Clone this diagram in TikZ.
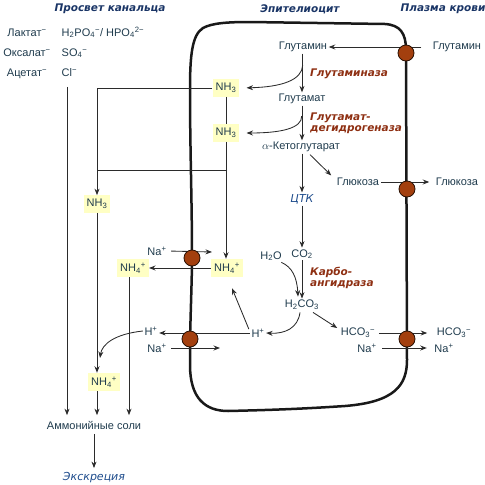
\documentclass[tikz,border=0pt]{standalone}
\usepackage{fontspec}
\setmainfont{Liberation Sans}
\newfontfamily\tfont{DejaVu Sans}
\usetikzlibrary{arrows.meta,calc}
\definecolor{txt}{HTML}{1F3B4D}
\definecolor{ttl}{HTML}{1A3566}
\definecolor{enz}{HTML}{8E2F12}
\definecolor{blu}{HTML}{1E4C8C}
\definecolor{ylw}{HTML}{FFFFC4}
\definecolor{trc}{HTML}{A33F0E}
\definecolor{lc}{HTML}{2B2B2B}
\begin{document}
\begin{tikzpicture}[x=1pt,y=-1pt,
  font=\fontsize{11}{13}\selectfont, text=txt,
  lbl/.style={inner sep=1.5pt},
  ybox/.style={fill=ylw, inner xsep=3pt, inner ysep=4pt},
  title/.style={font=\tfont\bfseries\itshape\fontsize{10.5}{12}\selectfont, text=ttl},
  enzyme/.style={font=\tfont\bfseries\itshape\fontsize{10.5}{11}\selectfont, text=enz, align=left, anchor=west, inner sep=0pt},
  bluetext/.style={font=\tfont\itshape\fontsize{11}{13}\selectfont, text=blu},
  arr/.style={draw=lc, line width=0.85pt, -{Stealth[length=6.5pt,width=5pt]}},
  plain/.style={draw=lc, line width=0.85pt},
  pump/.style={circle, fill=trc, draw=black!75!trc, line width=0.8pt, minimum size=16pt, inner sep=0pt},
  mem/.style={draw=black!90, line width=2.5pt, line join=round}]
\useasboundingbox (0,0) rectangle (485,485);

% membrane
\draw[mem] (250,22) -- (385,24) .. controls (400,25) and (406,33) .. (406,50)
  -- (407,360) .. controls (407,385) and (395,402) .. (345,406)
  .. controls (300,409) and (270,410) .. (228,411)
  .. controls (205,411) and (190,398) .. (190,365)
  -- (190,340) .. controls (191,300) and (192,275) .. (192,258)
  .. controls (192,200) and (190,150) .. (190,90)
  .. controls (190,55) and (192,35) .. (203,28)
  .. controls (212,23) and (228,22) .. (250,22) -- cycle;

% titles
\node[title] (t1) at (110,9) {Просвет канальца};
\node[title] (t2) at (300,9) {Эпителиоцит};
\node[title] (t3) at (443,9) {Плазма крови};

% lumen list
\node[lbl, anchor=base] (lak) at (27,36) {Лактат\textsuperscript{−}};
\node[lbl, anchor=base] (oks) at (27,56) {Оксалат\textsuperscript{−}};
\node[lbl, anchor=base] (ace) at (27,76) {Ацетат\textsuperscript{−}};
\node[lbl, anchor=base west] (hpo) at (60,36) {H\textsubscript{2}PO\textsubscript{4}\textsuperscript{−}/ HPO\textsubscript{4}\textsuperscript{2−}};
\node[lbl, anchor=base west] (so4) at (60,56) {SO\textsubscript{4}\textsuperscript{−}};
\node[lbl, anchor=base west] (cl) at (60,76) {Cl\textsuperscript{−}};

% cell contents
\node[lbl] (glnI) at (303,47) {Глутамин};
\node[lbl] (glu) at (302,99) {Глутамат};
\node[lbl] (akg) at (301,147) {$\alpha$-Кетоглутарат};
\node[lbl, bluetext] (tck) at (302,199) {ЦТК};
\node[lbl] (glcI) at (358,182) {Глюкоза};
\node[lbl] (co2) at (302,254) {CO\textsubscript{2}};
\node[lbl] (h2o) at (271,256) {H\textsubscript{2}O};
\node[lbl] (h2co3) at (302,305) {H\textsubscript{2}CO\textsubscript{3}};
\node[lbl] (hI) at (258,333) {H\textsuperscript{+}};
\node[lbl] (hco3I) at (358,333) {HCO\textsubscript{3}\textsuperscript{−}};
\node[lbl] (naI) at (367,348) {Na\textsuperscript{+}};

% enzymes
\node[enzyme] (e1) at (310,74) {Глутаминаза};
\node[enzyme] (e2) at (310,123) {Глутамат-\\дегидрогеназа};
\node[enzyme] (e3) at (310,278) {Карбо-\\ангидраза};

% blood side
\node[lbl] (glnO) at (457,47) {Глутамин};
\node[lbl] (glcO) at (457,182) {Глюкоза};
\node[lbl] (hco3O) at (454,333) {HCO\textsubscript{3}\textsuperscript{−}};
\node[lbl] (naO) at (444,348) {Na\textsuperscript{+}};

% ammonia boxes
\node[ybox] (nh3a) at (226,88) {NH\textsubscript{3}};
\node[ybox] (nh3b) at (226,133) {NH\textsubscript{3}};
\node[ybox] (nh3c) at (97,204) {NH\textsubscript{3}};
\node[ybox] (nh4r) at (227,268) {NH\textsubscript{4}\textsuperscript{+}};
\node[ybox] (nh4l) at (133,268) {NH\textsubscript{4}\textsuperscript{+}};
\node[ybox] (nh4b) at (104,382) {NH\textsubscript{4}\textsuperscript{+}};

% lumen side ions
\node[lbl] (naT) at (157,251) {Na\textsuperscript{+}};
\node[lbl] (hO) at (151,331) {H\textsuperscript{+}};
\node[lbl] (naB) at (157,348) {Na\textsuperscript{+}};

% bottom
\node[lbl] (salts) at (94,425) {Аммонийные соли};
\node[lbl, bluetext] (excr) at (94,478) {Экскреция};

% helper coordinates
\coordinate (b1) at ($(glnI.south)!0.3!(glu.north)$);
\coordinate (b2) at ($(glu.south)!0.3!(akg.north)$);
\coordinate (j1) at (227,170);
\coordinate (clx) at (67,0);
\coordinate (x128) at (129,0);
\coordinate (naTe) at (212,252);
\coordinate (naBe) at (220,348);

% glutamine metabolism
\draw[arr, shorten <=10pt] (glnO.west) -- (glnO.west -| glnI.east);
\draw[arr] (glnI.south -| glu.north) -- (glu.north);
\draw[arr, shorten >=7pt] (b1) .. controls (302,80) and (282,87) .. (nh3a.east);
\draw[arr] (glu.south) -- (glu.south |- akg.north);
\draw[arr, shorten >=7pt] (b2) .. controls (302,128) and (282,133) .. (nh3b.east);
\draw[arr] (akg.south -| tck.north) -- (tck.north);
\draw[arr] ($(akg.south)+(9,1)$) -- ($(glcI.north west)+(-4,-1)$);
\draw[arr, shorten >=5pt] (glcI.east) -- (glcI.east -| glcO.west);
\draw[arr] (tck.south) -- (tck.south |- co2.north);
\draw[arr] (co2.south) -- (co2.south |- h2co3.north);
\draw[arr] ($(h2o.south east)+(-2,0)$) .. controls (292,267) and (297,277) .. ($(h2co3.north)+(-4,-2)$);
\draw[arr] ($(h2co3.south)+(-2,1)$) .. controls (298,328) and (285,334) .. (hI.east);
\draw[arr] ($(h2co3.south)+(11,1)$) -- ($(hco3I.west)+(-2,-5)$);
\draw[arr, shorten <=2pt, shorten >=8pt] (hco3I.east) -- (hco3I.east -| hco3O.west);
\draw[arr, shorten <=4pt, shorten >=6pt] (naI.east) -- (naI.east -| naO.west);

% proton & ammonium transport
\draw[arr] (hI.west) -- (hI.west -| hO.east);
\draw[arr] ($(hI.north west)+(-1,2)$) -- ($(nh4r.south)+(5,11)$);
\draw[arr, shorten <=3pt] (naT.east) -- (naTe);
\draw[arr, shorten <=3pt] (naB.east) -- (naBe);
\draw[arr] (nh4r.west) -- (nh4r.west -| nh4l.east);
\draw[arr] (hO.west) .. controls (115,334) and (102,344) .. (100,358);

% ammonia lines
\draw[arr] (nh3a.west) -| (nh3c.north);
\draw[plain] (nh3a.south) -- (nh3b.north);
\draw[arr] (nh3b.south) -- (nh3b.south |- nh4r.north);
\draw[plain] (j1) -- (j1 -| nh3c.north);
\draw[arr] (nh3c.south) -- (nh3c.south |- nh4b.north);
\draw[arr, shorten >=4pt] (nh3c.south |- nh4b.south) -- (nh3c.south |- salts.north);
\draw[arr, shorten >=4pt] (nh4l.south -| x128) -- (x128 |- salts.north);
\draw[arr, shorten <=9pt, shorten >=4pt] (cl.south -| clx) -- (clx |- salts.north);
\draw[arr, shorten <=3pt, shorten >=3pt] (salts.south) -- (excr.north);

% transporters
\node[pump] (p1) at (406,53) {};
\node[pump] (p2) at (407,189) {};
\node[pump] (p3) at (192,258) {};
\node[pump] (p4) at (190,339) {};
\node[pump] (p5) at (407,339) {};
\end{tikzpicture}
\end{document}
